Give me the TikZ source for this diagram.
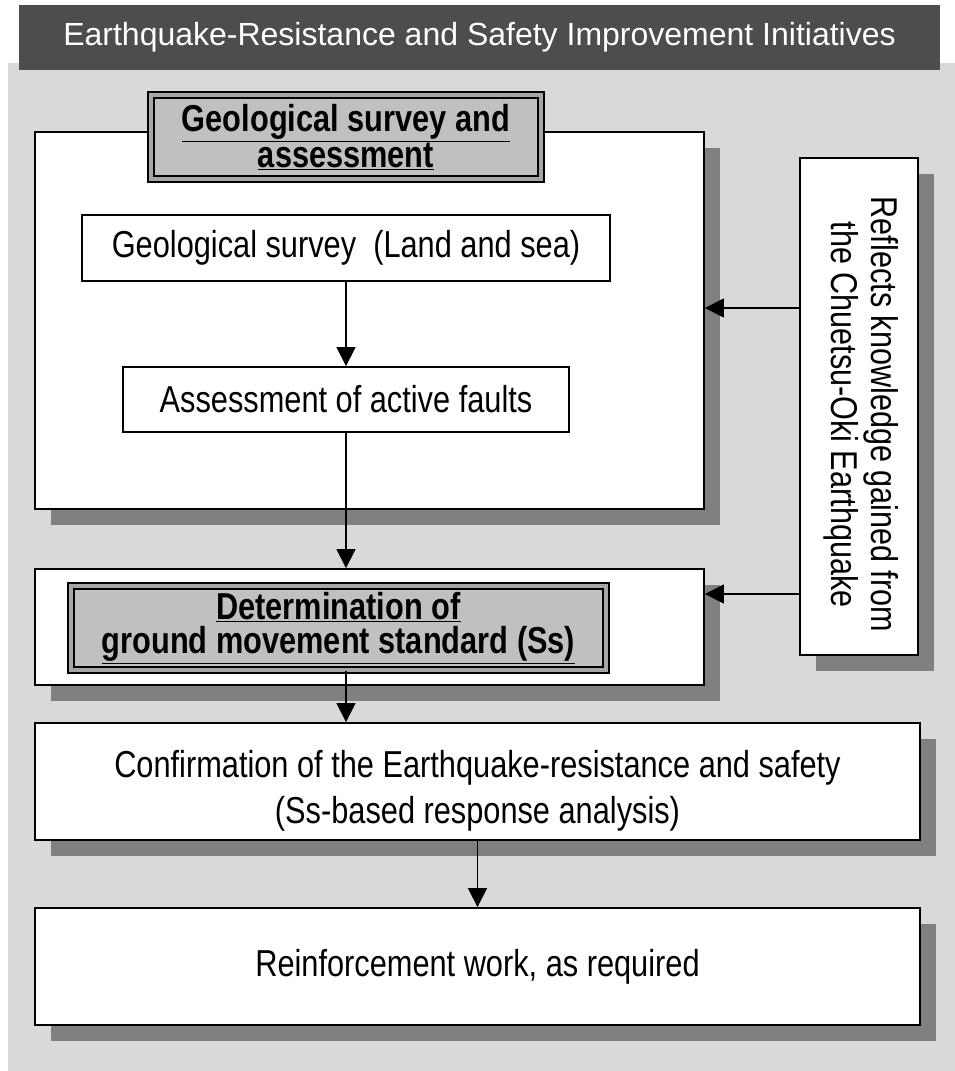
\documentclass[tikz,border=0pt]{standalone}
\usepackage{fontspec}
\setmainfont{Liberation Sans}[FakeStretch=0.82]
\newfontfamily\titlefont{Liberation Sans}
\usetikzlibrary{positioning,arrows.meta,shadows}
\definecolor{bggray}{HTML}{D9D9D9}
\definecolor{bargray}{HTML}{4D4D4D}
\definecolor{shadegray}{HTML}{808080}
\definecolor{headgray}{HTML}{C0C0C0}
\definecolor{ringgray}{HTML}{A6A6A6}

\begin{document}
\begin{tikzpicture}[x=1pt, y=-1pt,
    box/.style={draw, line width=1.8pt, fill=white, inner sep=0pt, align=center,
                font=\fontsize{37.5}{46}\selectfont,
                drop shadow={shadow xshift=16pt, shadow yshift=-16pt, opacity=1, fill=shadegray}},
    plainbox/.style={draw, line width=1.8pt, fill=white, inner sep=0pt, align=center,
                font=\fontsize{37.5}{46}\selectfont},
    headbox/.style={draw, line width=2pt, double=ringgray, double distance=3.5pt,
                fill=headgray, inner sep=0pt, align=center,
                font=\bfseries\fontsize{37.5}{34}\selectfont},
    arr/.style={line width=1.3pt, -{Triangle[length=19pt, width=19pt]}}]
  \useasboundingbox (0,0) rectangle (955,1071);
  \fill[white] (0,0) rectangle (955,1071);
  \fill[bggray] (8,63) rectangle (955,1071);

  % title bar
  \node[fill=bargray, minimum width=921pt, minimum height=65pt, inner sep=0pt,
        text=white, font=\titlefont\fontsize{32}{36}\selectfont] (title) at (479.5,37.5)
        {Earthquake-Resistance and Safety Improvement Initiatives};

  % geological part
  \node[box, minimum width=669pt, minimum height=377pt] (geoouter) at (369.5,320.5) {};
  \node[headbox, minimum width=390pt, minimum height=84pt] (geohead) at (346,137)
        {\underline{Geological survey and}\\\underline{assessment}};
  \node[plainbox, minimum width=528pt, minimum height=66pt] (survey) at (346,248)
        {Geological survey\ \ (Land and sea)};
  \node[plainbox, minimum width=446pt, minimum height=65pt] (faults) at (346,399.5)
        {Assessment of active faults};

  % ground movement standard
  \node[box, minimum width=669pt, minimum height=116pt] (ssouter) at (369.5,627) {};
  \node[headbox, minimum width=535pt, minimum height=84pt] (sshead) at (338.5,628)
        {\underline{Determination of}\\\underline{ground movement standard (Ss)}};

  % knowledge from Chuetsu-Oki
  \node[box, minimum width=118pt, minimum height=497pt] (reflects) at (859,406.5)
        {\rotatebox{-90}{\fontsize{37.3}{40}\selectfont\hspace*{16pt}%
         \begin{tabular}{@{}c@{}}Reflects knowledge gained from\\the Chuetsu-Oki Earthquake\end{tabular}}};

  \node[box, minimum width=885pt, minimum height=117pt] (confirm) at (477.5,781.5)
        {\rule{0pt}{45pt}Confirmation of the Earthquake-resistance and safety\\(Ss-based response analysis)};
  \node[box, minimum width=885pt, minimum height=117pt] (reinforce) at (477.5,966.5)
        {Reinforcement work, as required};

  \coordinate (lvlA) at (0,308);
  \coordinate (lvlB) at (0,594);

  \draw[arr] (survey) -- (faults);
  \draw[arr] (faults.south) -- (faults.south |- ssouter.north);
  \draw[arr] (sshead.south -| faults) -- (faults |- confirm.north);
  \draw[arr] (confirm) -- (reinforce);
  \draw[arr] (reflects.west |- lvlA) -- (geoouter.east |- lvlA);
  \draw[arr] (reflects.west |- lvlB) -- (ssouter.east |- lvlB);
\end{tikzpicture}
\end{document}
